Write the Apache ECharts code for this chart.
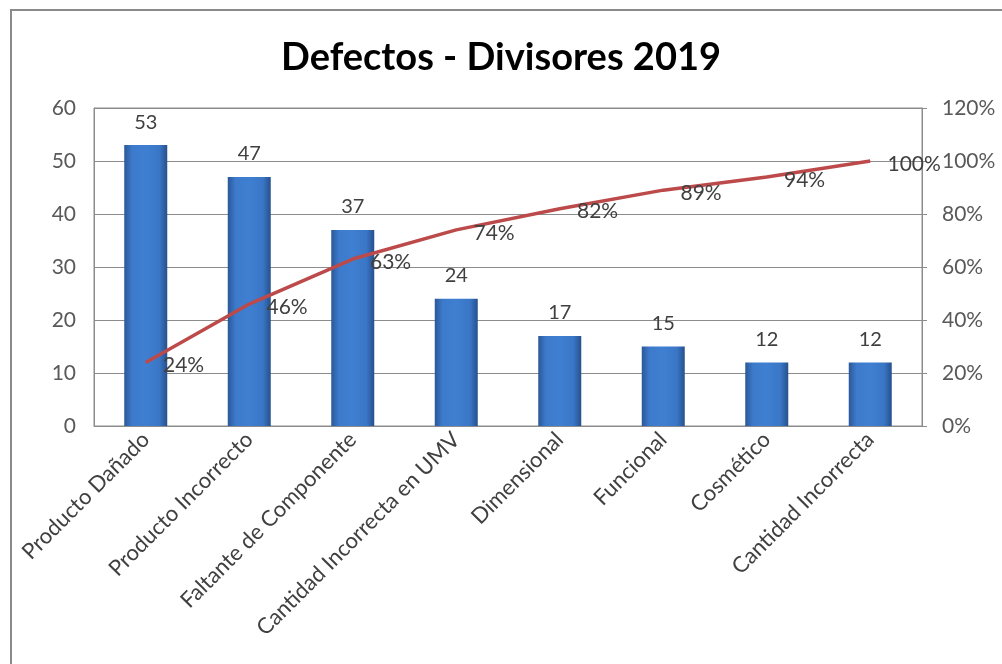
<!DOCTYPE html>
<html>
<head>
<meta charset="utf-8">
<script src="https://cdn.jsdelivr.net/npm/echarts@6/dist/echarts.min.js"></script>
<style>
html,body{margin:0;padding:0;background:#fff;}
#chart{width:1002px;height:664px;}
</style>
</head>
<body>
<div id="chart"></div>
<script>
const categories = ['Producto Dañado','Producto Incorrecto','Faltante de Componente','Cantidad Incorrecta en UMV','Dimensional','Funcional','Cosmético','Cantidad Incorrecta'];
const defectCounts = [53, 47, 37, 24, 17, 15, 12, 12];
const cumulativePct = [24, 46, 63, 74, 82, 89, 94, 100];
const leftTicks = [0, 10, 20, 30, 40, 50, 60];
const rightTicksPct = [0, 20, 40, 60, 80, 100, 120];

const FONT = 'Lato, "Open Sans", sans-serif';
const chart = echarts.init(document.getElementById('chart'));
chart.setOption({
  animation: false,
  backgroundColor: '#ffffff',
  title: {
    text: 'Defectos - Divisores 2019',
    left: 'center',
    top: 34,
    textStyle: {fontFamily: FONT, fontSize: 38, fontWeight: 'bold', color: '#000000'}
  },
  graphic: [{
    type: 'polyline',
    shape: {points: [[11, 680], [11, 10], [1010, 10]]},
    style: {stroke: '#8a8a8a', lineWidth: 2, fill: null},
    silent: true
  }],
  grid: {left: 94, right: 80, top: 108, bottom: 238, show: true, borderColor: '#8c8c8c', borderWidth: 1, backgroundColor: 'transparent'},
  xAxis: {
    type: 'category',
    data: categories,
    axisLine: {lineStyle: {color: '#8c8c8c'}},
    axisTick: {show: false},
    axisLabel: {rotate: 45, interval: 0, fontFamily: FONT, fontSize: 22, color: '#404040', margin: 10}
  },
  yAxis: [{
    type: 'value', min: leftTicks[0], max: leftTicks[leftTicks.length - 1], interval: 10,
    axisLine: {show: true, lineStyle: {color: '#8c8c8c'}},
    axisTick: {show: false},
    splitLine: {lineStyle: {color: '#8c8c8c', width: 1}},
    axisLabel: {fontFamily: FONT, fontSize: 21, color: '#595959', margin: 18}
  }, {
    type: 'value', min: rightTicksPct[0], max: rightTicksPct[rightTicksPct.length - 1], interval: 20,
    position: 'right',
    axisLine: {show: true, lineStyle: {color: '#8c8c8c'}},
    axisTick: {show: true, length: 5, lineStyle: {color: '#8c8c8c'}},
    splitLine: {show: false},
    axisLabel: {fontFamily: FONT, fontSize: 21, color: '#595959', margin: 20, formatter: '{value}%'}
  }],
  series: [{
    type: 'bar',
    data: defectCounts,
    barWidth: 43,
    itemStyle: {
      color: new echarts.graphic.LinearGradient(0, 0, 1, 0, [
        {offset: 0, color: '#2a5897'},
        {offset: 0.18, color: '#3d7acb'},
        {offset: 0.5, color: '#3f7fd1'},
        {offset: 0.82, color: '#3a76c6'},
        {offset: 1, color: '#26508c'}
      ])
    },
    label: {show: true, position: 'top', distance: 13, fontFamily: FONT, fontSize: 20, color: '#404040'}
  }, {
    type: 'line',
    yAxisIndex: 1,
    data: cumulativePct,
    symbol: 'circle',
    symbolSize: 0.5,
    showSymbol: true,
    itemStyle: {color: '#bc4a4a'},
    lineStyle: {color: '#bc4a4a', width: 3.5},
    label: {show: true, position: 'right', distance: 17, offset: [0, 3], fontFamily: FONT, fontSize: 21, color: '#404040', formatter: '{c}%'}
  }]
});
</script>
</body>
</html>
